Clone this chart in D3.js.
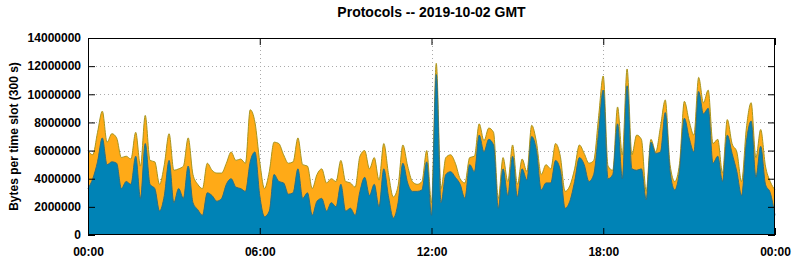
<!DOCTYPE html>
<html>
<head>
<meta charset="utf-8">
<script src="https://cdn.jsdelivr.net/npm/d3@7"></script>
<style>
  body { margin: 0; background: #fff; }
  svg text { font-family: "Liberation Sans", Arial, sans-serif; font-weight: bold; }
</style>
</head>
<body>
<svg id="chart" width="795" height="260"></svg>
<script>
// 10-minute samples, millions of bytes per 300 s slot
const totalBytes = [
  6.0, 5.7, 7.3, 8.8, 6.6, 7.2, 6.9, 5.5, 5.6, 5.4, 7.3, 4.9, 8.5, 5.3, 5.2, 3.6, 5.0, 7.2, 4.6, 4.7,
  4.9, 6.9, 4.3, 3.6, 3.3, 5.1, 4.6, 4.4, 4.4, 5.1, 5.9, 5.3, 5.4, 5.1, 8.9, 8.0, 5.2, 3.3, 4.5, 6.6,
  6.5, 5.7, 5.1, 5.2, 6.9, 5.0, 4.9, 3.3, 4.3, 4.7, 3.7, 4.0, 3.8, 5.3, 3.8, 3.7, 3.4, 5.6, 6.0, 4.7,
  5.5, 3.9, 6.5, 4.3, 2.7, 3.5, 6.4, 4.9, 3.8, 3.6, 3.8, 6.0, 2.3, 12.2, 3.3, 5.5, 5.7, 5.1, 4.0, 3.7,
  5.5, 5.6, 7.9, 6.7, 7.6, 7.3, 2.6, 5.5, 3.8, 6.4, 3.6, 5.4, 4.5, 7.8, 6.6, 4.3, 5.0, 4.7, 6.5, 5.6,
  3.1, 3.5, 4.7, 6.4, 5.8, 5.1, 5.3, 8.3, 11.3, 4.9, 4.6, 9.1, 5.7, 11.8, 5.7, 7.1, 6.8, 3.1, 6.8, 5.9,
  7.7, 9.6, 5.0, 3.8, 5.1, 9.5, 8.1, 7.1, 11.2, 9.4, 10.3, 6.5, 6.8, 4.4, 8.2, 6.5, 5.9, 3.8, 7.6, 9.4,
  5.5, 7.5, 4.9, 3.8, 3.2
];
const tcpBytes = [
  3.3, 4.0, 5.2, 6.9, 5.0, 5.2, 5.1, 3.3, 3.8, 3.6, 5.6, 2.6, 6.5, 3.6, 3.3, 1.7, 2.8, 5.3, 2.3, 3.3,
  2.6, 4.9, 2.3, 1.8, 1.4, 3.0, 2.8, 2.4, 2.6, 3.6, 4.0, 3.4, 3.3, 3.1, 5.2, 5.9, 2.8, 1.3, 1.7, 4.3,
  3.8, 3.7, 2.9, 3.0, 4.7, 2.6, 3.0, 1.4, 2.4, 2.6, 1.7, 2.3, 2.0, 3.6, 1.7, 1.9, 1.4, 3.1, 4.1, 2.8,
  3.6, 2.0, 4.7, 2.7, 1.2, 2.3, 5.1, 3.7, 3.1, 3.1, 3.2, 5.2, 1.4, 11.4, 2.3, 4.3, 4.5, 4.1, 3.6, 2.6,
  5.0, 4.5, 7.1, 5.9, 6.8, 6.4, 1.9, 4.7, 2.8, 5.6, 2.7, 4.7, 3.9, 7.0, 6.0, 3.2, 3.7, 3.7, 5.3, 4.6,
  1.9, 2.4, 3.8, 5.5, 5.0, 3.8, 4.3, 7.2, 10.3, 4.0, 4.3, 7.9, 4.0, 10.6, 4.7, 4.6, 4.7, 2.5, 6.6, 5.8,
  5.9, 8.7, 4.5, 3.2, 4.6, 8.3, 6.9, 5.9, 10.2, 8.6, 9.0, 5.1, 5.6, 3.8, 7.1, 5.8, 4.5, 2.8, 6.6, 8.1,
  4.1, 6.3, 3.6, 3.0, 1.4
];
const yTicks = [0, 2e6, 4e6, 6e6, 8e6, 10e6, 12e6, 14e6];
const xTickHours = [0, 6, 12, 18, 24];

const dayStart = Date.UTC(2019, 9, 2);
const stepMs = 10 * 60 * 1000;

const margin = { left: 88, right: 20, top: 38, bottom: 25 };
const width = 795, height = 260;

const svg = d3.select("#chart");

const x = d3.scaleUtc()
  .domain([new Date(dayStart), new Date(dayStart + 24 * 3600 * 1000)])
  .range([margin.left, width - margin.right]);
const y = d3.scaleLinear()
  .domain([0, 14e6])
  .range([height - margin.bottom, margin.top]);

const xTicks = xTickHours.map((h) => new Date(dayStart + h * 3600 * 1000));

const rows = totalBytes.map((t, i) => ({
  time: new Date(dayStart + i * stepMs),
  total: t * 1e6,
  tcp: tcpBytes[i] * 1e6,
}));

// grid, behind the data
const grid = svg.append("g")
  .attr("stroke", "#aaa")
  .attr("stroke-width", 1)
  .attr("stroke-dasharray", "1,3");
grid.selectAll("line.h")
  .data(yTicks.slice(1, -1))
  .enter().append("line")
  .attr("x1", margin.left).attr("x2", width - margin.right)
  .attr("y1", (d) => Math.round(y(d)) + 0.5).attr("y2", (d) => Math.round(y(d)) + 0.5);
grid.selectAll("line.v")
  .data(xTicks.slice(1, -1))
  .enter().append("line")
  .attr("y1", margin.top).attr("y2", height - margin.bottom)
  .attr("x1", (d) => Math.round(x(d)) + 0.5).attr("x2", (d) => Math.round(x(d)) + 0.5);

const curve = d3.curveMonotoneX;

svg.append("path")
  .datum(rows)
  .attr("fill", "#ffaa17")
  .attr("d", d3.area().curve(curve).x((d) => x(d.time)).y0(y(0)).y1((d) => y(d.total)));
svg.append("path")
  .datum(rows)
  .attr("fill", "none")
  .attr("stroke", "#a8961f")
  .attr("stroke-width", 1)
  .attr("d", d3.line().curve(curve).x((d) => x(d.time)).y((d) => y(d.total)));

svg.append("path")
  .datum(rows)
  .attr("fill", "#0083b6")
  .attr("d", d3.area().curve(curve).x((d) => x(d.time)).y0(y(0)).y1((d) => y(d.tcp)));
svg.append("path")
  .datum(rows)
  .attr("fill", "none")
  .attr("stroke", "#2b6f86")
  .attr("stroke-width", 1)
  .attr("d", d3.line().curve(curve).x((d) => x(d.time)).y((d) => y(d.tcp)));

// axes, ticks pointing inward like gnuplot
const fmtTime = d3.utcFormat("%H:%M");
const styleAxis = (g) => {
  g.select(".domain").remove();
  g.selectAll("line").attr("stroke", "#000");
  g.selectAll("text").attr("fill", "#000").style("font-size", "12px");
};

svg.append("g")
  .attr("transform", `translate(${margin.left},0)`)
  .call(d3.axisLeft(y).tickValues(yTicks).tickSize(-7).tickPadding(7).tickFormat(d3.format("d")))
  .call(styleAxis);
svg.append("g")
  .attr("transform", `translate(${width - margin.right},0)`)
  .call(d3.axisRight(y).tickValues(yTicks).tickSize(-7).tickFormat(""))
  .call(styleAxis);
svg.append("g")
  .attr("transform", `translate(0,${height - margin.bottom})`)
  .call(d3.axisBottom(x).tickValues(xTicks).tickSize(-7).tickPadding(12).tickFormat(fmtTime))
  .call(styleAxis);
svg.append("g")
  .attr("transform", `translate(0,${margin.top})`)
  .call(d3.axisTop(x).tickValues(xTicks).tickSize(-7).tickFormat(""))
  .call(styleAxis);

// plot border
svg.append("rect")
  .attr("x", margin.left + 0.5)
  .attr("y", margin.top + 0.5)
  .attr("width", width - margin.left - margin.right - 1)
  .attr("height", height - margin.top - margin.bottom - 1)
  .attr("fill", "none")
  .attr("stroke", "#000")
  .attr("stroke-width", 1);

svg.append("text")
  .attr("x", (margin.left + width - margin.right) / 2)
  .attr("y", 17)
  .attr("text-anchor", "middle")
  .style("font-size", "14px")
  .text("Protocols -- 2019-10-02 GMT");

svg.append("text")
  .attr("transform", `translate(18,${(margin.top + height - margin.bottom) / 2}) rotate(-90)`)
  .attr("text-anchor", "middle")
  .style("font-size", "12px")
  .text("Bytes per time slot (300 s)");
</script>
</body>
</html>
